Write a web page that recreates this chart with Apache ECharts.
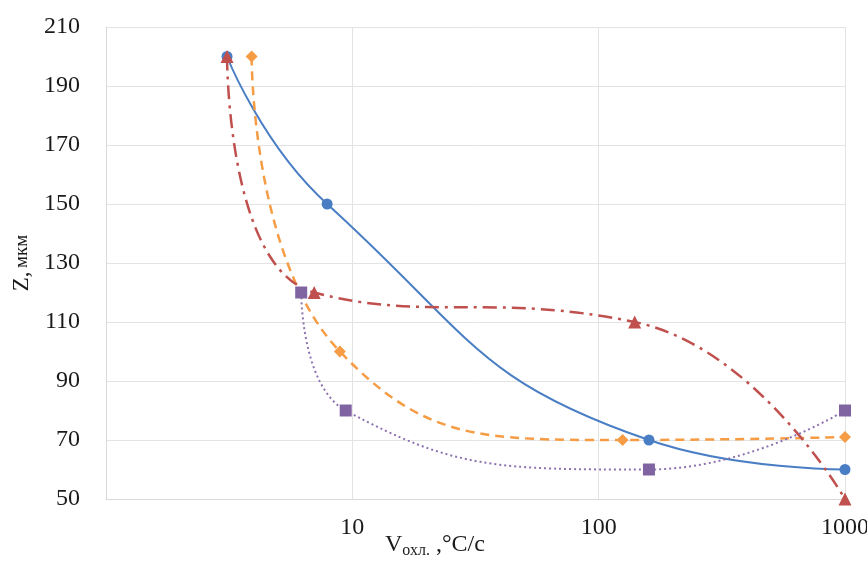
<!DOCTYPE html>
<html>
<head>
<meta charset="utf-8">
<script src="https://cdn.jsdelivr.net/npm/echarts@6/dist/echarts.min.js"></script>
<style>
  html, body { margin: 0; padding: 0; background: #fff; }
  #main { width: 867px; height: 561px; }
</style>
</head>
<body>
<div id="main"></div>
<script>
// скорость охлаждения, °C/c и Z, мкм для четырёх кривых
var blueX = [3.1, 7.9, 160, 1000];
var blueY = [200, 150, 70, 60];
var orangeX = [3.9, 8.9, 125, 1000];
var orangeY = [200, 100, 70, 71];
var redX = [3.1, 7.0, 140, 1000];
var redY = [200, 120, 110, 50];
var purpleX = [6.2, 9.4, 160, 1000];
var purpleY = [120, 80, 60, 80];

function pairs(xs, ys) {
  var out = [];
  for (var i = 0; i < xs.length; i++) out.push([xs[i], ys[i]]);
  return out;
}

var serif = 'Liberation Serif';
var myChart = echarts.init(document.getElementById('main'));

var option = {
  animation: false,
  grid: { left: 106, right: 22, top: 27, bottom: 62, outerBoundsMode: 'none' },
  xAxis: {
    type: 'log',
    logBase: 10,
    min: 1,
    max: 1000,
    axisLine: { lineStyle: { color: '#d9d9d9', width: 1 } },
    axisTick: { show: false },
    splitLine: { show: true, lineStyle: { color: '#e3e3e3', width: 1 } },
    axisLabel: {
      showMinLabel: false,
      formatter: function (v) { return String(Math.round(v)); },
      color: '#1a1a1a',
      fontFamily: serif,
      fontSize: 24,
      margin: 17
    }
  },
  yAxis: {
    type: 'value',
    min: 50,
    max: 210,
    interval: 20,
    axisLine: { show: true, lineStyle: { color: '#d9d9d9', width: 1 } },
    axisTick: { show: false },
    splitLine: { lineStyle: { color: '#e3e3e3', width: 1 } },
    axisLabel: {
      color: '#1a1a1a',
      fontFamily: serif,
      fontSize: 24,
      margin: 26
    },
    name: '{a|Z,} {b|мкм}',
    nameLocation: 'middle',
    nameRotate: 90,
    nameGap: 70,
    nameTextStyle: {
      rich: {
        a: { fontFamily: serif, fontSize: 23, color: '#1a1a1a' },
        b: { fontFamily: serif, fontSize: 19, color: '#1a1a1a' }
      }
    }
  },
  graphic: [{
    type: 'text',
    left: 385,
    top: 533,
    style: {
      text: '{a|V}{b|охл.}{a| ,°С/с}',
      rich: {
        a: { fontFamily: serif, fontSize: 24, fill: '#1a1a1a' },
        b: { fontFamily: serif, fontSize: 16, fill: '#1a1a1a', verticalAlign: 'bottom', padding: [12, 0, 0, 0] }
      }
    }
  }],
  series: [
    {
      type: 'line',
      smooth: 0.5,
      data: pairs(blueX, blueY),
      symbol: 'circle',
      symbolSize: 11,
      itemStyle: { color: '#4a7ec4' },
      lineStyle: { color: '#4a7ec4', width: 2 }
    },
    {
      type: 'line',
      smooth: 0.5,
      data: pairs(orangeX, orangeY),
      symbol: 'diamond',
      symbolSize: 12,
      itemStyle: { color: '#f59c45' },
      lineStyle: { color: '#f59c45', width: 2.5, type: [9, 6] }
    },
    {
      type: 'line',
      smooth: 0.5,
      data: pairs(redX, redY),
      symbol: 'triangle',
      symbolSize: 13,
      itemStyle: { color: '#c0504d' },
      lineStyle: { color: '#c0504d', width: 2.5, type: [14, 6, 3, 6] }
    },
    {
      type: 'line',
      smooth: 0.5,
      data: pairs(purpleX, purpleY),
      symbol: 'rect',
      symbolSize: 12,
      itemStyle: { color: '#8064a2' },
      lineStyle: { color: '#8d73b0', width: 2, type: [2, 3] }
    }
  ]
};
myChart.setOption(option);
</script>
</body>
</html>
